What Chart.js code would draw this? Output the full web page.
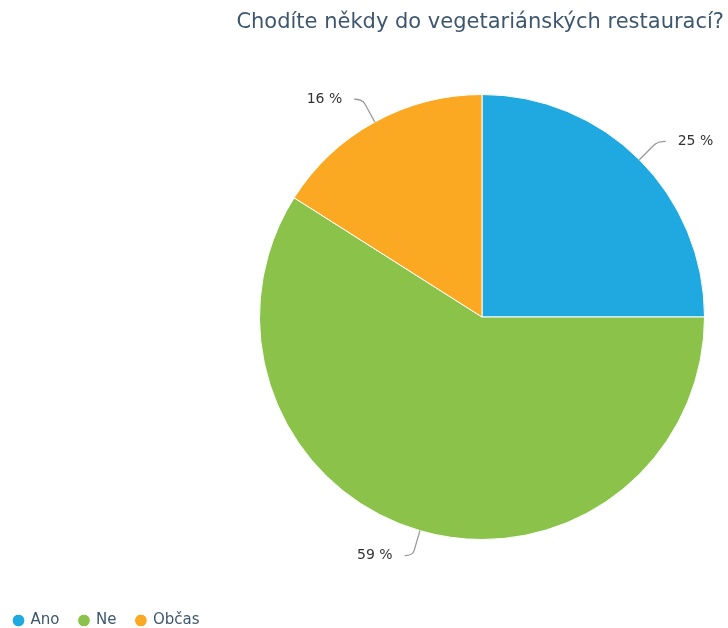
<!DOCTYPE html>
<html>
<head>
<meta charset="utf-8">
<script src="https://cdn.jsdelivr.net/npm/chart.js@4/dist/chart.umd.min.js"></script>
<style>
  body { margin: 0; background: #fff; }
  canvas { display: block; }
</style>
</head>
<body>
<canvas id="pie" width="728" height="628"></canvas>
<script>
// data
const title = 'Chodíte někdy do vegetariánských restaurací?';
const categories = ['Ano', 'Ne', 'Občas'];
const percents = [25, 59, 16];
const colors = ['#20a8e0', '#8bc34a', '#fba823'];

// put the pie where the original has it (right of centre, radius ~223)
const pieBox = {
  id: 'pieBox',
  afterLayout(chart) {
    const a = chart.chartArea;
    const cx = 482, cy = 317, r = 223;
    a.left = cx - r; a.right = cx + r;
    a.top = cy - r; a.bottom = cy + r;
    a.width = 2 * r; a.height = 2 * r;
  }
};

// outside labels with bent connector lines
const sliceLabels = {
  id: 'sliceLabels',
  afterDatasetsDraw(chart) {
    const ctx = chart.ctx;
    const meta = chart.getDatasetMeta(0);
    ctx.save();
    ctx.font = '14px "DejaVu Sans"';
    ctx.textBaseline = 'middle';
    meta.data.forEach((arc, i) => {
      const p = arc.getProps(['x', 'y', 'startAngle', 'endAngle', 'outerRadius'], true);
      const mid = (p.startAngle + p.endAngle) / 2;
      const cos = Math.cos(mid), sin = Math.sin(mid);
      const right = cos >= 0;
      const x0 = p.x + cos * p.outerRadius, y0 = p.y + sin * p.outerRadius;
      const x1 = p.x + cos * (p.outerRadius + 26), y1 = p.y + sin * (p.outerRadius + 26);
      const x2 = x1 + (right ? 8 : -8);
      ctx.strokeStyle = '#999';
      ctx.lineWidth = 1.3;
      ctx.beginPath();
      ctx.moveTo(x0, y0);
      ctx.lineTo(x0 + (x1 - x0) * 0.8, y0 + (y1 - y0) * 0.8);
      ctx.quadraticCurveTo(x1, y1, x2, y1);
      ctx.stroke();
      ctx.fillStyle = '#333';
      ctx.textAlign = right ? 'left' : 'right';
      ctx.fillText(percents[i] + ' %', x2 + (right ? 12 : -12), y1);
    });
    ctx.restore();
  }
};

new Chart(document.getElementById('pie'), {
  type: 'pie',
  data: {
    labels: categories,
    datasets: [{
      data: percents,
      backgroundColor: colors,
      borderColor: '#fff',
      borderWidth: 1
    }]
  },
  options: {
    responsive: false,
    animation: false,
    layout: { padding: { left: -6, right: 4, top: 0, bottom: -10 } },
    plugins: {
      title: {
        display: true,
        text: title,
        align: 'end',
        color: '#3e576f',
        font: { family: 'DejaVu Sans', size: 21, weight: 'normal' },
        padding: { top: 10, bottom: 10 }
      },
      legend: {
        position: 'bottom',
        align: 'start',
        labels: {
          usePointStyle: true,
          pointStyle: 'circle',
          boxWidth: 9,
          boxHeight: 9,
          padding: 20,
          color: '#3e576f',
          font: { family: 'DejaVu Sans', size: 15 }
        }
      },
      tooltip: { enabled: false }
    }
  },
  plugins: [pieBox, sliceLabels]
});
</script>
</body>
</html>
